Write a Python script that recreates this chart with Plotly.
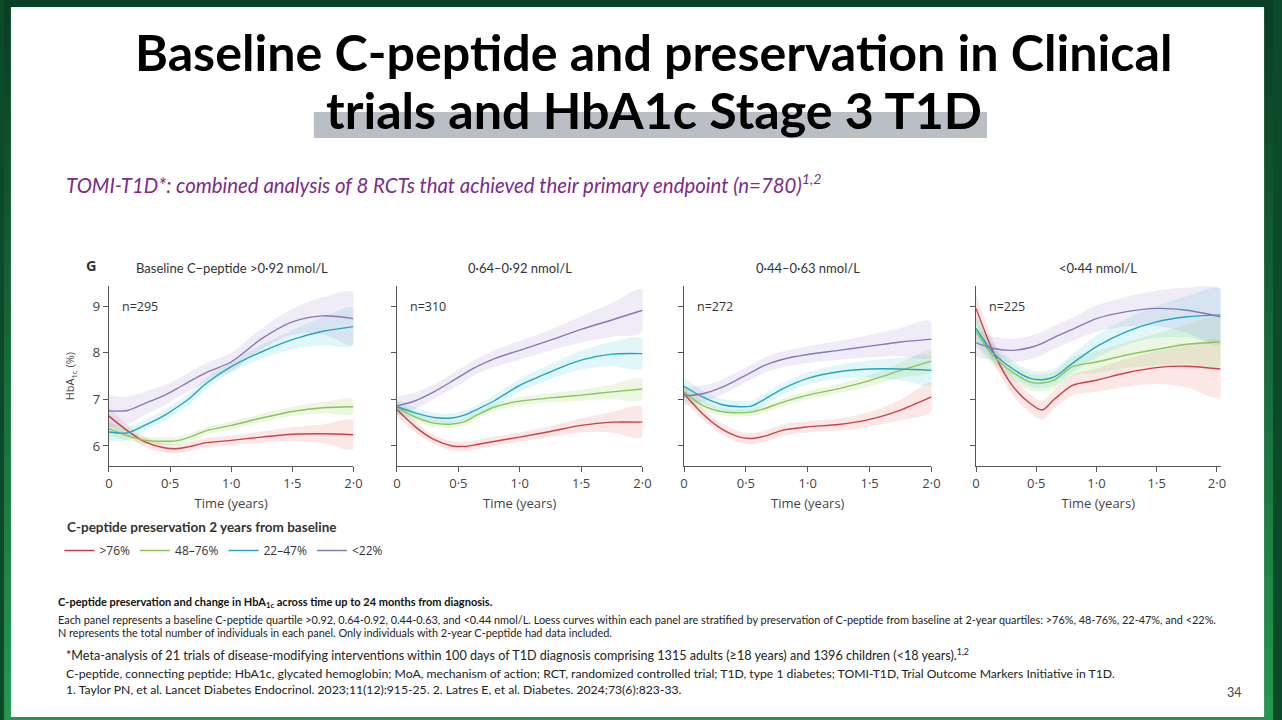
import plotly.graph_objects as go

W, H = 1282, 720

# ---------------- data ----------------
T = [0, 0.15, 0.3, 0.45, 0.55, 0.65, 0.8, 1.0, 1.25, 1.5, 1.75, 2.0]
T4 = [0, 0.15, 0.3, 0.45, 0.55, 0.65, 0.8, 1.0, 1.25, 1.5, 1.75, 2.03]

SERIES = [">76%", "48–76%", "22–47%", "<22%"]
PANEL_TITLES = ["Baseline C−peptide >0·92 nmol/L", "0·64–0·92 nmol/L",
                "0·44–0·63 nmol/L", "<0·44 nmol/L"]
PANEL_N = ["n=295", "n=310", "n=272", "n=225"]
X_TICKS = [0, 0.5, 1.0, 1.5, 2.0]
X_TICKTEXT = ["0", "0·5", "1·0", "1·5", "2·0"]
Y_TICKS = [6, 7, 8, 9]
Y_TICKTEXT = ["6", "7", "8", "9"]

# Panel 1: baseline C-peptide >0.92
P1_RED = [6.64, 6.33, 6.08, 5.96, 5.94, 5.98, 6.07, 6.12, 6.19, 6.25, 6.26, 6.24]
P1_GREEN = [6.37, 6.22, 6.12, 6.10, 6.11, 6.18, 6.33, 6.44, 6.60, 6.74, 6.82, 6.84]
P1_TEAL = [6.30, 6.28, 6.45, 6.65, 6.82, 7.00, 7.35, 7.70, 8.02, 8.28, 8.46, 8.56]
P1_PURPLE = [6.75, 6.76, 6.92, 7.08, 7.22, 7.37, 7.58, 7.80, 8.30, 8.66, 8.79, 8.73]
P1_RED_CI = [0.20, 0.12, 0.10, 0.10, 0.10, 0.10, 0.10, 0.10, 0.12, 0.15, 0.20, 0.30]
P1_GREEN_CI = [0.15, 0.10, 0.08, 0.08, 0.08, 0.08, 0.08, 0.08, 0.09, 0.10, 0.12, 0.15]
P1_TEAL_CI = [0.20, 0.15, 0.12, 0.12, 0.12, 0.12, 0.12, 0.12, 0.15, 0.20, 0.30, 0.40]
P1_PURPLE_CI = [0.35, 0.30, 0.25, 0.22, 0.20, 0.20, 0.20, 0.20, 0.22, 0.28, 0.40, 0.55]

# Panel 2: 0.64-0.92
P2_RED = [6.78, 6.41, 6.14, 6.00, 5.99, 6.03, 6.10, 6.19, 6.31, 6.44, 6.51, 6.51]
P2_GREEN = [6.82, 6.62, 6.49, 6.47, 6.52, 6.66, 6.84, 6.96, 7.03, 7.09, 7.16, 7.22]
P2_TEAL = [6.84, 6.71, 6.61, 6.60, 6.66, 6.78, 6.98, 7.30, 7.59, 7.84, 7.97, 7.98]
P2_PURPLE = [6.86, 6.97, 7.16, 7.39, 7.55, 7.70, 7.88, 8.05, 8.27, 8.50, 8.70, 8.91]
P2_RED_CI = [0.15, 0.12, 0.10, 0.10, 0.10, 0.10, 0.10, 0.10, 0.12, 0.15, 0.22, 0.32]
P2_GREEN_CI = [0.15, 0.10, 0.08, 0.08, 0.08, 0.08, 0.08, 0.09, 0.10, 0.12, 0.16, 0.22]
P2_TEAL_CI = [0.15, 0.12, 0.10, 0.10, 0.10, 0.10, 0.12, 0.14, 0.16, 0.20, 0.26, 0.32]
P2_PURPLE_CI = [0.20, 0.18, 0.16, 0.16, 0.16, 0.16, 0.18, 0.20, 0.22, 0.28, 0.36, 0.45]

# Panel 3: 0.44-0.63
P3_RED = [7.12, 6.69, 6.37, 6.19, 6.16, 6.21, 6.34, 6.41, 6.46, 6.57, 6.77, 7.05]
P3_GREEN = [7.16, 6.87, 6.74, 6.71, 6.73, 6.80, 6.94, 7.09, 7.23, 7.40, 7.62, 7.82]
P3_TEAL = [7.28, 7.05, 6.89, 6.84, 6.86, 7.00, 7.23, 7.45, 7.59, 7.65, 7.65, 7.62]
P3_PURPLE = [7.07, 7.12, 7.25, 7.45, 7.59, 7.73, 7.86, 7.96, 8.05, 8.14, 8.23, 8.29]
P3_RED_CI = [0.15, 0.12, 0.12, 0.12, 0.12, 0.12, 0.12, 0.12, 0.13, 0.16, 0.22, 0.30]
P3_GREEN_CI = [0.15, 0.10, 0.08, 0.08, 0.08, 0.08, 0.08, 0.09, 0.10, 0.12, 0.16, 0.22]
P3_TEAL_CI = [0.18, 0.14, 0.12, 0.12, 0.12, 0.12, 0.12, 0.13, 0.15, 0.18, 0.24, 0.30]
P3_PURPLE_CI = [0.20, 0.18, 0.16, 0.16, 0.16, 0.16, 0.17, 0.18, 0.20, 0.24, 0.30, 0.38]

# Panel 4: <0.44
P4_RED = [8.95, 7.98, 7.30, 6.91, 6.77, 7.00, 7.30, 7.41, 7.57, 7.68, 7.71, 7.65]
P4_GREEN = [8.45, 7.91, 7.59, 7.37, 7.35, 7.41, 7.70, 7.80, 7.95, 8.07, 8.18, 8.23]
P4_TEAL = [8.52, 7.98, 7.66, 7.45, 7.42, 7.48, 7.77, 8.13, 8.45, 8.66, 8.77, 8.81]
P4_PURPLE = [8.21, 8.09, 8.05, 8.11, 8.20, 8.33, 8.50, 8.73, 8.88, 8.95, 8.91, 8.77]
P4_RED_CI = [0.30, 0.22, 0.20, 0.20, 0.20, 0.20, 0.22, 0.25, 0.30, 0.35, 0.45, 0.60]
P4_GREEN_CI = [0.30, 0.20, 0.18, 0.18, 0.18, 0.18, 0.20, 0.24, 0.28, 0.34, 0.42, 0.52]
P4_TEAL_CI = [0.30, 0.20, 0.18, 0.18, 0.18, 0.18, 0.20, 0.24, 0.28, 0.34, 0.44, 0.55]
P4_PURPLE_CI = [0.30, 0.25, 0.25, 0.25, 0.25, 0.25, 0.25, 0.28, 0.32, 0.38, 0.48, 0.60]

PANELS = [
    (T, [P1_RED, P1_GREEN, P1_TEAL, P1_PURPLE], [P1_RED_CI, P1_GREEN_CI, P1_TEAL_CI, P1_PURPLE_CI]),
    (T, [P2_RED, P2_GREEN, P2_TEAL, P2_PURPLE], [P2_RED_CI, P2_GREEN_CI, P2_TEAL_CI, P2_PURPLE_CI]),
    (T, [P3_RED, P3_GREEN, P3_TEAL, P3_PURPLE], [P3_RED_CI, P3_GREEN_CI, P3_TEAL_CI, P3_PURPLE_CI]),
    (T4, [P4_RED, P4_GREEN, P4_TEAL, P4_PURPLE], [P4_RED_CI, P4_GREEN_CI, P4_TEAL_CI, P4_PURPLE_CI]),
]

# ---------------- styles ----------------
LINE_COLORS = ["#cf3f45", "#8cc35a", "#22a7be", "#8878b6"]
BAND_COLORS = ["rgba(235,120,110,0.18)", "rgba(160,215,110,0.20)",
               "rgba(90,205,215,0.18)", "rgba(165,150,215,0.18)"]
FONT = "Lato"
CFONT = "Open Sans"
AX_COLOR = "#555555"

# pixel layout of the four panels
PANEL_PX = [(106, 353), (397, 645), (687, 937), (982, 1229)]
X_RANGES = [[0, 2.0], [0, 2.0], [0, 2.0], [0, 2.03]]
Y_RANGE = [5.57, 9.43]
PLOT_TOP, PLOT_BOT = 286, 466


def px(x):
    return x / W


def py(y):
    return 1 - y / H


fig = go.Figure()

for i, (tt, lines, cis) in enumerate(PANELS):
    xa = "x" if i == 0 else f"x{i+1}"
    ya = "y" if i == 0 else f"y{i+1}"
    for j in range(4):
        upper = [v + c for v, c in zip(lines[j], cis[j])]
        lower = [v - c for v, c in zip(lines[j], cis[j])]
        fig.add_trace(go.Scatter(
            x=list(tt) + list(tt)[::-1], y=upper + lower[::-1],
            fill="toself", fillcolor=BAND_COLORS[j], line=dict(width=0, shape="spline"),
            mode="lines", hoverinfo="skip", showlegend=False, xaxis=xa, yaxis=ya))
    for j in range(4):
        fig.add_trace(go.Scatter(
            x=tt, y=lines[j], mode="lines", name=SERIES[j],
            line=dict(color=LINE_COLORS[j], width=1.4, shape="spline", smoothing=0.8),
            showlegend=(i == 0), xaxis=xa, yaxis=ya))

layout_axes = {}
for i in range(4):
    sfx = "" if i == 0 else str(i + 1)
    x0, x1 = PANEL_PX[i]
    layout_axes["xaxis" + sfx] = dict(
        domain=[px(x0), px(x1)], range=X_RANGES[i], anchor="y" + sfx,
        tickvals=X_TICKS, ticktext=X_TICKTEXT, ticks="outside", ticklen=5,
        tickcolor=AX_COLOR, showline=True, linecolor=AX_COLOR, linewidth=1.2,
        showgrid=False, zeroline=False, tickfont=dict(family=CFONT, size=13, color="#444"),
        title=dict(text="Time (years)", font=dict(family=CFONT, size=13, color="#444"), standoff=8),
        fixedrange=True)
    layout_axes["yaxis" + sfx] = dict(
        domain=[py(PLOT_BOT), py(PLOT_TOP)], range=Y_RANGE, anchor="x" + sfx,
        tickvals=Y_TICKS, ticktext=Y_TICKTEXT, ticks="outside", ticklen=5,
        tickcolor=AX_COLOR, showline=True, linecolor=AX_COLOR, linewidth=1.2,
        showgrid=False, zeroline=False, showticklabels=(i == 0),
        tickfont=dict(family=CFONT, size=13.5, color="#444"), fixedrange=True)

fig.update_layout(**layout_axes)

# ---------------- background / frame ----------------
shapes = []
N_STRIPS = 30
c_top = (10, 64, 36)
c_bot = (36, 150, 80)
for k in range(N_STRIPS):
    f = k / (N_STRIPS - 1)
    col = tuple(int(c_top[m] + (c_bot[m] - c_top[m]) * f) for m in range(3))
    shapes.append(dict(type="rect", xref="paper", yref="paper", layer="below",
                       x0=0, x1=1, y0=1 - (k + 1) / N_STRIPS, y1=1 - k / N_STRIPS,
                       fillcolor="rgb(%d,%d,%d)" % col, line=dict(width=0)))
shapes.append(dict(type="rect", xref="paper", yref="paper", layer="below",
                   x0=px(7), x1=px(1273), y0=py(717), y1=py(7),
                   fillcolor="white", line=dict(width=0)))
# grey highlight behind title line 2
shapes.append(dict(type="rect", xref="paper", yref="paper", layer="below",
                   x0=px(313), x1=px(993), y0=py(138), y1=py(112),
                   fillcolor="#b9bfc4", line=dict(width=0)))

annotations = []


def note(text, x, y, size, color="#222", xanchor="left", yanchor="middle", family=FONT, **kw):
    annotations.append(dict(text=text, x=px(x), y=py(y), xref="paper", yref="paper",
                            xanchor=xanchor, yanchor=yanchor, showarrow=False,
                            font=dict(family=family, size=size, color=color), **kw))


note("<b>Baseline C-peptide and preservation in Clinical</b>", 656, 52, 50.2, "#000", xanchor="center")
note("<b>trials and HbA1c Stage 3 T1D</b>", 657, 109, 50.2, "#000", xanchor="center")
note("<i>TOMI-T1D*: combined analysis of 8 RCTs that achieved their primary endpoint (n=780)<sup>1,2</sup></i>",
     61, 183, 20.4, "#7a2b8c")

# panel annotations
note("<b>G</b>", 81, 265, 14.5, "#333", family=CFONT)
title_cx = [230, 521, 812, 1105]
for i in range(4):
    note(PANEL_TITLES[i], title_cx[i], 268, 13, "#333", xanchor="center", family=FONT)
for i in range(4):
    sfx = "" if i == 0 else str(i + 1)
    annotations.append(dict(text=PANEL_N[i], x=0.09, y=9.0, xref="x" + sfx, yref="y" + sfx,
                            xanchor="left", yanchor="middle", showarrow=False,
                            font=dict(family=CFONT, size=12.5, color="#333")))
note("HbA<sub>1c</sub> (%)", 67, 376, 11, "#444", xanchor="center", textangle=-90, family=CFONT)

# legend title
note("<b>C-peptide preservation 2 years from baseline</b>", 62, 527, 13.5, "#333")

# caption and footnotes
note("<b>C-peptide preservation and change in HbA<sub>1c</sub> across time up to 24 months from diagnosis.</b>",
     53, 602, 11, "#111")
note("Each panel represents a baseline C-peptide quartile >0.92, 0.64-0.92, 0.44-0.63, and <0.44 nmol/L. "
     "Loess curves within each panel are stratified by preservation of C-peptide from baseline at 2-year quartiles: "
     ">76%, 48-76%, 22-47%, and <22%.", 53, 619, 10.9, "#222")
note("N represents the total number of individuals in each panel. Only individuals with 2-year C-peptide had data included.",
     53, 632, 10.9, "#222")
note("*Meta-analysis of 21 trials of disease-modifying interventions within 100 days of T1D diagnosis comprising "
     "1315 adults (≥18 years) and 1396 children (<18 years).<sup>1,2</sup>", 61, 654, 12.6, "#222")
note("C-peptide, connecting peptide; HbA1c, glycated hemoglobin; MoA, mechanism of action; RCT, randomized controlled trial; "
     "T1D, type 1 diabetes; TOMI-T1D, Trial Outcome Markers Initiative in T1D.", 61, 673, 12.2, "#222")
note("1. Taylor PN, et al. Lancet Diabetes Endocrinol. 2023;11(12):915-25. 2. Latres E, et al. Diabetes. 2024;73(6):823-33.",
     61, 689, 12.2, "#222")
note("34", 1243, 692, 12.5, "#444", xanchor="center")

fig.update_layout(
    width=W, height=H, margin=dict(l=0, r=0, t=0, b=0),
    paper_bgcolor="#0d4a2a", plot_bgcolor="rgba(0,0,0,0)",
    shapes=shapes, annotations=annotations,
    showlegend=True,
    legend=dict(orientation="h", x=px(56), y=py(536), xanchor="left", yanchor="top",
                bgcolor="rgba(0,0,0,0)", itemwidth=30, tracegroupgap=0,
                font=dict(family=CFONT, size=12, color="#333")),
    font=dict(family=FONT),
)

fig.write_html("out.html", config={"displayModeBar": False},
               post_script="document.body.style.margin='0';document.body.style.padding='0';"
                           "document.documentElement.style.overflow='hidden';")
